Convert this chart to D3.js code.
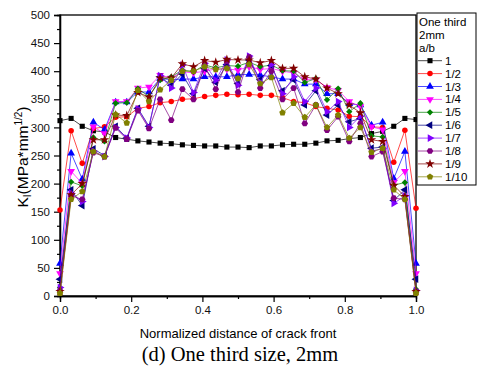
<!DOCTYPE html>
<html><head><meta charset="utf-8">
<script src="https://cdn.jsdelivr.net/npm/d3@7"></script>
<style>body{margin:0;background:#fff}svg{display:block;font-family:"Liberation Sans",Arial,sans-serif}</style>
</head><body><svg id="c" width="480" height="369"></svg>
<script>
const xPositions = d3.range(33).map(i => i / 32);
const seriesNames = ["1","1/2","1/3","1/4","1/5","1/6","1/7","1/8","1/9","1/10"];
const s1    = [312,316,302,294,292,282,279,276,274,272,271,269,268,267,267,265,265,264,267,267,269,270,270,272,276,277,280,282,289,293,302,316,314];
const s1_2  = [153,294,236,298,301,318,319,334,337,344,346,350,351,355,357,359,358,359,357,357,353,346,344,337,334,331,320,319,301,300,238,295,156];
const s1_3  = [58,254,208,309,296,345,345,363,363,387,385,386,386,390,390,390,394,394,393,390,386,386,377,377,360,360,342,340,304,309,209,257,58];
const s1_4  = [40,222,200,301,289,346,346,370,372,393,388,399,397,400,404,404,402,408,403,405,400,397,385,385,371,366,346,337,301,296,202,222,40];
const s1_5  = [15,203,196,282,275,343,344,369,355,384,390,402,399,411,406,410,409,416,408,411,401,400,380,387,349,369,328,343,285,283,197,202,12];
const s1_6  = [30,189,161,262,250,302,281,334,302,390,375,395,360,405,380,412,378,420,385,410,365,385,340,365,322,340,310,316,263,265,170,189,30];
const s1_7  = [15,183,168,258,248,300,281,333,300,392,370,411,362,414,384,420,375,427,380,412,360,390,346,370,328,346,300,320,258,262,165,178,10];
const s1_8  = [10,178,172,255,248,299,279,330,298,350,313,368,350,410,368,418,363,425,370,400,350,370,307,340,295,319,275,307,248,257,174,172,8];
const s1_9  = [8,180,200,278,278,322,321,362,354,388,388,413,408,419,416,421,420,420,415,419,405,405,390,386,370,360,340,326,278,275,197,177,8];
const s1_10 = [5,172,186,257,248,323,308,366,346,367,384,400,400,408,403,405,387,412,378,389,326,343,318,340,300,322,281,300,256,263,189,172,5];
const allSeries = [s1,s1_2,s1_3,s1_4,s1_5,s1_6,s1_7,s1_8,s1_9,s1_10];
const colors = ["#000000","#ff0000","#0000ff","#ff00ff","#008000","#000080","#8000ff","#800080","#800000","#808000"];
const legendTitle = ["One third","2mm","a/b"];
const xTicks = [0,0.2,0.4,0.6,0.8,1.0];
const yTicks = [0,50,100,150,200,250,300,350,400,450,500];

const svg = d3.select("#c");
const L=60,R=416,T=15,B=296;
const x = d3.scaleLinear().domain([0,1]).range([L,R]);
const y = d3.scaleLinear().domain([0,500]).range([B,T]);

// frame
svg.append("rect").attr("x",L).attr("y",T).attr("width",R-L).attr("height",B-T).attr("fill","none").attr("stroke","#000").attr("stroke-width",1.3);

// axes
const ya = svg.append("g").attr("transform",`translate(${L},0)`).call(d3.axisLeft(y).tickValues(yTicks).tickSize(6).tickPadding(4).tickFormat(d3.format("d")));
const yMinor = svg.append("g").attr("transform",`translate(${L},0)`).call(d3.axisLeft(y).tickValues(d3.range(25,500,50)).tickSize(3).tickFormat(""));
const xa = svg.append("g").attr("transform",`translate(0,${B})`).call(d3.axisBottom(x).tickValues(xTicks).tickSize(6).tickPadding(4).tickFormat(d3.format(".1f")));
const xMinor = svg.append("g").attr("transform",`translate(0,${B})`).call(d3.axisBottom(x).tickValues([0.1,0.3,0.5,0.7,0.9]).tickSize(3).tickFormat(""));
[ya,yMinor,xa,xMinor].forEach(g=>{g.select(".domain").attr("stroke-width",1.3);g.selectAll("line").attr("stroke-width",1.2);g.selectAll("text").attr("font-size",11.5).attr("font-family","Liberation Sans, Arial").attr("fill","#111");});

// symbols
function pentagon(size){const r=Math.sqrt(size/2.4);let p=[];for(let k=0;k<5;k++){const a=-Math.PI/2+k*2*Math.PI/5;p.push([r*Math.cos(a),r*Math.sin(a)]);}return "M"+p.map(q=>q.join(",")).join("L")+"Z";}
function hexagon(size){const r=Math.sqrt(size/2.6);let p=[];for(let k=0;k<6;k++){const a=k*Math.PI/3;p.push([r*Math.cos(a),r*Math.sin(a)]);}return "M"+p.map(q=>q.join(",")).join("L")+"Z";}
const symDefs = [
  {t:d3.symbolSquare,s:26,r:0},
  {t:d3.symbolCircle,s:24,r:0},
  {t:d3.symbolTriangle,s:26,r:0},
  {t:d3.symbolTriangle,s:26,r:180},
  {t:d3.symbolSquare,s:20,r:45},
  {t:d3.symbolTriangle,s:26,r:-90},
  {t:d3.symbolTriangle,s:26,r:90},
  {custom:hexagon,s:28,r:0},
  {t:d3.symbolStar,s:28,r:0},
  {custom:pentagon,s:28,r:0}
];
function symPath(k){const d=symDefs[k];return d.custom?d.custom(d.s):d3.symbol().type(d.t).size(d.s)();}

const line = d3.line().x((d,i)=>x(xPositions[i])).y(d=>y(d));
allSeries.forEach((vals,k)=>{
  const g = svg.append("g");
  g.append("path").attr("d",line(vals)).attr("fill","none").attr("stroke",colors[k]).attr("stroke-width",1).attr("stroke-opacity",0.7);
  g.selectAll("path.m").data(vals).enter().append("path").attr("class","m")
    .attr("d",symPath(k)).attr("fill",colors[k])
    .attr("transform",(d,i)=>`translate(${x(xPositions[i])},${y(d)}) rotate(${symDefs[k].r})`);
});

// legend
const lg = svg.append("g");
lg.append("rect").attr("x",417).attr("y",13).attr("width",59).attr("height",172).attr("fill","#fff").attr("stroke","#000").attr("stroke-width",1);
legendTitle.forEach((t,i)=>lg.append("text").attr("x",419).attr("y",26+i*13).attr("font-size",11.5).text(t));
seriesNames.forEach((n,k)=>{
  const yy = 60.7 + k*12.9;
  lg.append("line").attr("x1",418).attr("x2",442).attr("y1",yy).attr("y2",yy).attr("stroke",colors[k]).attr("stroke-width",1).attr("stroke-opacity",0.7);
  lg.append("path").attr("d",symPath(k)).attr("fill",colors[k]).attr("transform",`translate(430,${yy}) rotate(${symDefs[k].r})`);
  lg.append("text").attr("x",445).attr("y",yy+4).attr("font-size",11.5).text(n);
});

// y label
const yl = svg.append("text").attr("transform","translate(28,157) rotate(-90)").attr("text-anchor","middle").attr("font-size",15.5);
yl.append("tspan").text("K");
yl.append("tspan").attr("font-size",10).attr("dy",3).text("I");
yl.append("tspan").attr("dy",-3).text("(MPa*mm");
yl.append("tspan").attr("font-size",10).attr("dy",-6).text("1/2");
yl.append("tspan").attr("dy",6).text(")");

svg.append("text").attr("x",238).attr("y",338).attr("text-anchor","middle").attr("font-size",13).text("Normalized distance of crack front");
svg.append("text").attr("x",240).attr("y",361).attr("text-anchor","middle").attr("font-size",20.5).attr("font-family","Liberation Serif, Times New Roman, serif").text("(d) One third size, 2mm");
</script></body></html>
